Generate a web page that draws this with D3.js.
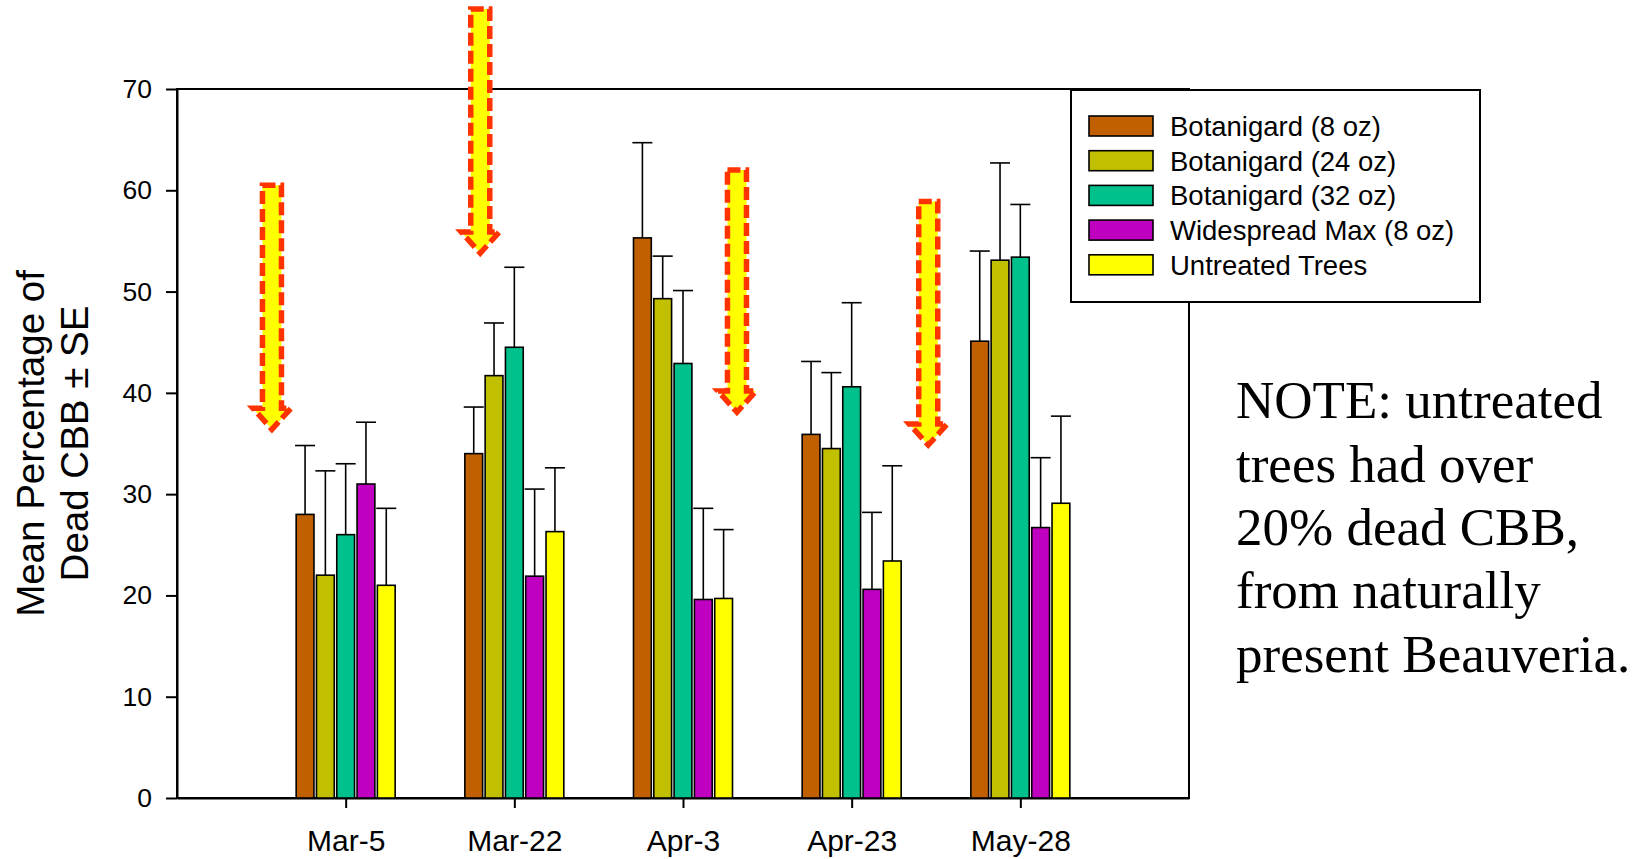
<!DOCTYPE html>
<html>
<head>
<meta charset="utf-8">
<script src="https://cdn.jsdelivr.net/npm/d3@7"></script>
<style>
  html, body { margin: 0; padding: 0; background: #fff; }
  svg { display: block; }
</style>
</head>
<body>
<script>
'use strict';

// data
const dates = ['Mar-5', 'Mar-22', 'Apr-3', 'Apr-23', 'May-28'];
const treatments = ['Botanigard (8 oz)', 'Botanigard (24 oz)', 'Botanigard (32 oz)', 'Widespread Max (8 oz)', 'Untreated Trees'];
const colours = ['#C06000', '#C0C000', '#00C08C', '#C000C0', '#FFFF00'];

const bot8Mean = [28.0, 34.0, 55.3, 35.9, 45.1];
const bot8Se = [6.8, 4.6, 9.4, 7.2, 8.9];
const bot24Mean = [22.0, 41.7, 49.3, 34.5, 53.1];
const bot24Se = [10.3, 5.2, 4.2, 7.5, 9.6];
const bot32Mean = [26.0, 44.5, 42.9, 40.6, 53.4];
const bot32Se = [7.0, 7.9, 7.2, 8.3, 5.2];
const wideMean = [31.0, 21.9, 19.6, 20.6, 26.7];
const wideSe = [6.1, 8.6, 9.0, 7.6, 6.9];
const untreatedMean = [21.0, 26.3, 19.7, 23.4, 29.1];
const untreatedSe = [7.6, 6.3, 6.8, 9.4, 8.6];

const yTicks = [0, 10, 20, 30, 40, 50, 60, 70];

// spray-date arrows: x in date slots, tip/top in % units
const arrowX = [0.563, 1.798, 3.32, 4.454];
const arrowTip = [36.4, 53.8, 38.1, 34.85];
const arrowTop = [60.5, 77.9, 62.0, 58.9];

const noteLines = ['NOTE: untreated', 'trees had over', '20% dead CBB,', 'from naturally', 'present Beauveria.'];

const means = [bot8Mean, bot24Mean, bot32Mean, wideMean, untreatedMean];
const ses = [bot8Se, bot24Se, bot32Se, wideSe, untreatedSe];

const W = 1644, H = 859;
const plot = { left: 177, right: 1189, top: 89, bottom: 798 };
const sans = "Arial, 'Liberation Sans', sans-serif";
const serif = "'Times New Roman', 'Liberation Serif', serif";

const svg = d3.select('body').append('svg')
  .attr('width', W)
  .attr('height', H)
  .attr('viewBox', `0 0 ${W} ${H}`);

const x = d3.scaleLinear().domain([0, dates.length + 1]).range([plot.left, plot.right]);
const y = d3.scaleLinear().domain([0, 70]).range([plot.bottom, plot.top]);
const groupW = 101.5;
const xInner = d3.scaleBand().domain(treatments).range([-groupW / 2, groupW / 2]);
const barW = xInner.bandwidth() - 2.5;

const rows = [];
treatments.forEach((t, s) => {
  dates.forEach((d, i) => {
    rows.push({ t, s, i, mean: means[s][i], se: ses[s][i] });
  });
});

// frame
svg.append('rect')
  .attr('x', plot.left).attr('y', plot.top)
  .attr('width', plot.right - plot.left).attr('height', plot.bottom - plot.top)
  .attr('fill', 'none').attr('stroke', '#000').attr('stroke-width', 2);

// y axis
const yAxis = svg.append('g')
  .attr('transform', `translate(${plot.left},0)`)
  .call(d3.axisLeft(y).tickValues(yTicks).tickSize(11).tickSizeOuter(0).tickPadding(14));
yAxis.select('.domain').attr('stroke-width', 2);
yAxis.selectAll('.tick line').attr('stroke-width', 2);
yAxis.selectAll('.tick text').attr('font-family', sans).attr('font-size', 26.5).attr('fill', '#000');

// x axis
const xAxis = svg.append('g')
  .attr('transform', `translate(0,${plot.bottom})`)
  .call(d3.axisBottom(x).tickValues(d3.range(1, dates.length + 1))
    .tickFormat(d => dates[d - 1]).tickSize(10).tickSizeOuter(0).tickPadding(22));
xAxis.select('.domain').attr('stroke-width', 2);
xAxis.selectAll('.tick line').attr('stroke-width', 2);
xAxis.selectAll('.tick text').attr('font-family', sans).attr('font-size', 30).attr('fill', '#000');

// error bars (upper only)
const err = svg.append('g').attr('stroke', '#000').attr('stroke-width', 1.6);
err.selectAll('line.stem')
  .data(rows).enter().append('line')
  .attr('class', 'stem')
  .attr('x1', d => x(d.i + 1) + xInner(d.t) + xInner.bandwidth() / 2)
  .attr('x2', d => x(d.i + 1) + xInner(d.t) + xInner.bandwidth() / 2)
  .attr('y1', d => y(d.mean))
  .attr('y2', d => y(d.mean + d.se));
err.selectAll('line.cap')
  .data(rows).enter().append('line')
  .attr('class', 'cap')
  .attr('x1', d => x(d.i + 1) + xInner(d.t) + xInner.bandwidth() / 2 - 10)
  .attr('x2', d => x(d.i + 1) + xInner(d.t) + xInner.bandwidth() / 2 + 10)
  .attr('y1', d => y(d.mean + d.se))
  .attr('y2', d => y(d.mean + d.se));

// bars
svg.append('g').selectAll('rect')
  .data(rows).enter().append('rect')
  .attr('x', d => x(d.i + 1) + xInner(d.t) + (xInner.bandwidth() - barW) / 2)
  .attr('y', d => y(d.mean))
  .attr('width', barW)
  .attr('height', d => y(0) - y(d.mean))
  .attr('fill', d => colours[d.s])
  .attr('stroke', '#000')
  .attr('stroke-width', 1.6);

// arrows
const arrows = arrowX.map((ax, k) => ({ ax, tip: arrowTip[k], top: arrowTop[k] }));
svg.append('g').selectAll('path')
  .data(arrows).enter().append('path')
  .attr('d', d => {
    const cx = x(d.ax), ty = y(d.top), tp = y(d.tip), hb = tp - 21;
    return `M${cx - 9.5},${ty}L${cx + 9.5},${ty}L${cx + 9.5},${hb}L${cx + 19},${hb}L${cx},${tp}L${cx - 19},${hb}L${cx - 9.5},${hb}Z`;
  })
  .attr('fill', '#FFFF00')
  .attr('stroke', '#FF3300')
  .attr('stroke-width', 5.5)
  .attr('stroke-dasharray', '13,5');

// y title
svg.append('text')
  .attr('transform', `translate(44,${(plot.top + plot.bottom) / 2}) rotate(-90)`)
  .attr('text-anchor', 'middle')
  .attr('font-family', sans).attr('font-size', 38.5)
  .selectAll('tspan')
  .data(['Mean Percentage of', 'Dead CBB \u00B1 SE'])
  .enter().append('tspan')
  .attr('x', 0)
  .attr('dy', (d, i) => i === 0 ? 0 : 44)
  .text(d => d);

// legend
const legend = svg.append('g');
legend.append('rect')
  .attr('x', 1071).attr('y', 90).attr('width', 409).attr('height', 212)
  .attr('fill', '#fff').attr('stroke', '#000').attr('stroke-width', 2);
const item = legend.selectAll('g.item')
  .data(treatments).enter().append('g')
  .attr('class', 'item')
  .attr('transform', (d, i) => `translate(1089,${116 + i * 34.7})`);
item.append('rect')
  .attr('width', 64).attr('height', 20)
  .attr('fill', (d, i) => colours[i])
  .attr('stroke', '#000').attr('stroke-width', 1.6);
item.append('text')
  .attr('x', 81).attr('y', 10)
  .attr('dy', '0.36em')
  .attr('font-family', sans).attr('font-size', 27.5)
  .text(d => d);

// note
svg.append('text')
  .attr('font-family', serif).attr('font-size', 53)
  .selectAll('tspan')
  .data(noteLines).enter().append('tspan')
  .attr('x', 1236)
  .attr('y', (d, i) => 418.3 + i * 63.3)
  .text(d => d);
</script>
</body>
</html>
